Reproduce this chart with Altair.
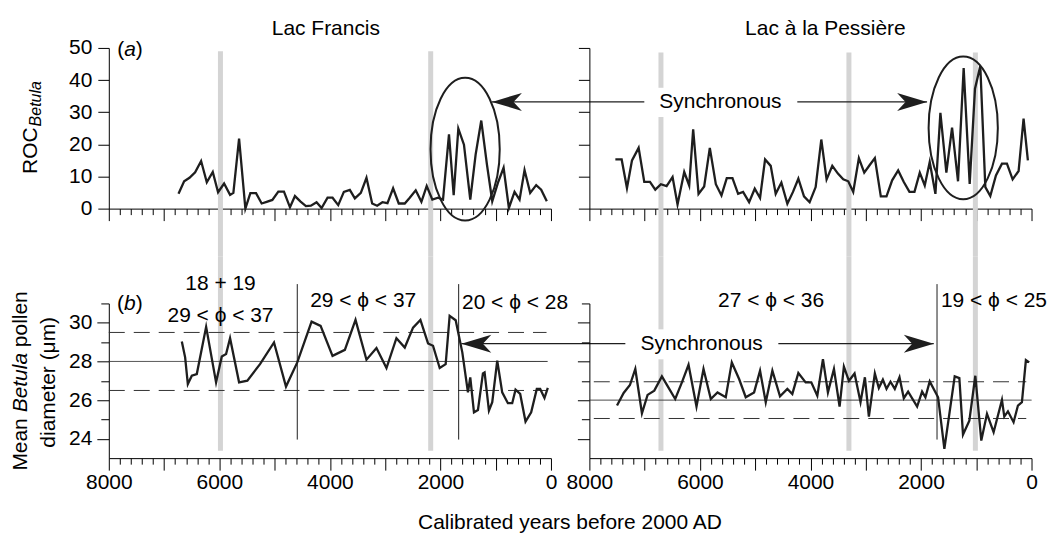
import altair as alt
import pandas as pd

FONT = "Liberation Sans"
FS = 21
W = 443
H_TOP = 161
H_BOT = 155
INK = "#1e1e1e"
BAND = "#d4d4d4"

# ---------------- data ----------------
francis_roc_year = [6739, 6637, 6540, 6438, 6330, 6227, 6119, 6023, 5914, 5806,
                    5746, 5643, 5529, 5439, 5336, 5234, 5144, 5041, 4933, 4831,
                    4722, 4632, 4530, 4433, 4343, 4241, 4150, 4042, 3952, 3849,
                    3747, 3639, 3548, 3440, 3338, 3235, 3145, 3049, 2958, 2856,
                    2754, 2645, 2555, 2447, 2344, 2248, 2146, 2043, 1953, 1845,
                    1760, 1676, 1574, 1460, 1363, 1261, 1158, 1062, 960, 857,
                    761, 659, 568, 478, 376, 267, 177, 75]
francis_roc_val = [4.6, 8.5, 9.6, 11.3, 14.8, 8.2, 11.4, 5.1, 7.8, 4.3,
                   4.9, 21.8, 0.0, 4.8, 4.8, 1.6, 2.1, 2.7, 5.3, 5.3,
                   0.4, 3.9, 2.2, 0.8, 0.9, 2.0, 0.2, 3.4, 3.4, 1.1,
                   5.2, 5.8, 3.2, 4.9, 9.6, 1.6, 0.9, 2.0, 1.7, 6.3,
                   1.6, 1.6, 3.4, 5.7, 2.1, 7.0, 2.8, 3.4, 2.8, 23.1,
                   4.2, 24.9, 19.9, 2.8, 16.8, 27.4, 13.7, 2.3, 8.0, 12.7,
                   0.2, 5.2, 2.8, 12.0, 4.9, 7.3, 5.9, 2.3]

pessiere_roc_year = [7530, 7416, 7320, 7229, 7109, 7007, 6904, 6808, 6706, 6603,
                     6495, 6405, 6284, 6194, 6122, 6025, 5923, 5821, 5712, 5610,
                     5514, 5411, 5309, 5219, 5110, 5008, 4912, 4821, 4719, 4629,
                     4526, 4418, 4316, 4219, 4117, 4015, 3906, 3804, 3708, 3605,
                     3503, 3407, 3316, 3226, 3124, 3027, 2931, 2835, 2727, 2624,
                     2522, 2413, 2311, 2209, 2118, 2022, 1932, 1842, 1739, 1649,
                     1541, 1438, 1330, 1228, 1119, 1023, 927, 836, 746, 644,
                     535, 445, 342, 234, 144, 66]
pessiere_roc_val = [15.3, 15.3, 6.4, 15.0, 18.9, 8.3, 8.3, 5.9, 7.6, 7.0,
                    9.8, 1.3, 11.4, 7.2, 24.7, 4.6, 6.9, 18.9, 7.6, 4.1,
                    9.5, 9.5, 4.6, 5.2, 2.0, 6.2, 3.3, 15.3, 13.3, 4.6,
                    8.1, 1.5, 5.2, 9.3, 3.8, 2.0, 6.7, 21.5, 9.1, 13.3,
                    10.9, 9.1, 8.5, 5.2, 15.7, 11.2, 13.5, 15.7, 3.8, 3.8,
                    8.8, 11.9, 8.3, 5.2, 5.2, 11.2, 7.2, 14.5, 4.6, 29.8,
                    11.2, 25.2, 8.5, 43.7, 7.7, 37.3, 44.4, 6.7, 3.9, 10.3,
                    14.0, 14.0, 9.1, 11.7, 28.0, 15.0]

francis_dia_year = [6679, 6619, 6570, 6498, 6408, 6239, 6059, 5956, 5878, 5806,
                    5643, 5493, 5264, 5011, 4794, 4590, 4331, 4168, 3952, 3729,
                    3536, 3338, 3157, 2976, 2796, 2645, 2495, 2362, 2224, 2134,
                    2013, 1905, 1833, 1724, 1604, 1502, 1460, 1393, 1321, 1231,
                    1201, 1122, 1062, 972, 882, 779, 701, 641, 557, 460,
                    358, 256, 195, 117, 57]
francis_dia_val = [29.03, 28.21, 26.83, 27.26, 27.35, 29.79, 26.92, 28.26, 28.38, 29.20,
                   26.92, 27.01, 27.86, 28.98, 26.70, 27.95, 30.06, 29.84, 28.29, 28.60,
                   30.15, 28.09, 28.69, 27.66, 29.20, 28.72, 29.75, 30.15, 28.93, 28.81,
                   27.66, 27.86, 30.36, 30.13, 28.47, 26.40, 27.18, 25.37, 25.49, 27.38,
                   27.43, 25.46, 25.89, 28.04, 26.40, 25.84, 25.84, 26.54, 26.32, 24.89,
                   25.37, 26.58, 26.58, 26.11, 26.63]

pessiere_dia_year = [7500, 7380, 7266, 7169, 7049, 6947, 6826, 6688, 6555, 6447,
                     6326, 6206, 6062, 5935, 5803, 5682, 5532, 5423, 5291, 5171,
                     5020, 4912, 4809, 4689, 4551, 4418, 4328, 4219, 4087, 3985,
                     3876, 3774, 3684, 3575, 3473, 3395, 3304, 3202, 3094, 3015,
                     2943, 2835, 2763, 2690, 2624, 2552, 2474, 2389, 2311, 2233,
                     2070, 1980, 1920, 1842, 1691, 1577, 1390, 1306, 1240, 1125,
                     1017, 909, 806, 686, 535, 493, 427, 325, 246, 174,
                     102, 42]
pessiere_dia_val = [25.72, 26.37, 26.78, 27.61, 25.32, 26.27, 26.49, 27.23, 26.58, 26.06,
                    26.92, 27.83, 25.67, 27.61, 26.06, 26.40, 26.15, 27.95, 27.09, 26.15,
                    26.40, 27.52, 25.89, 27.52, 26.20, 26.58, 26.32, 27.40, 26.92, 26.92,
                    26.23, 28.12, 26.40, 27.61, 25.67, 27.73, 27.00, 27.38, 25.89, 27.18,
                    25.15, 27.38, 26.63, 27.06, 26.58, 26.95, 26.58, 27.18, 26.10, 26.44,
                    25.67, 26.44, 26.15, 26.97, 26.15, 23.48, 27.23, 27.14, 24.22, 24.94,
                    27.26, 23.91, 25.29, 24.34, 26.01, 25.15, 25.42, 24.86, 25.72, 25.89,
                    28.07, 27.95]

# grey synchronous bands (years) and zone boundaries
francis_bands = [5980, 2176]
pessiere_bands = [6705, 3304, 1016]
francis_zones = [4590, 1670]
pessiere_zones = [1710]

# mean +/- limits of the diameter panels
francis_mean = 28.0
francis_limits = [29.5, 26.5]
pessiere_mean = 26.0
pessiere_limits = [26.95, 25.05]

# zone labels: (year, value, text)
francis_zone_labels = [(5979, 31.98, "18 + 19"), (5979, 30.35, "29 < ϕ < 37"),
                       (3398, 31.12, "29 < ϕ < 37"), (650, 31.03, "20 < ϕ < 28")]
pessiere_zone_labels = [(4713, 31.12, "27 < ϕ < 36"), (680, 31.12, "19 < ϕ < 25")]

# ---------------- scales and axes ----------------
xs = alt.Scale(domain=[8000, 0], nice=False, zero=False)
yt = alt.Scale(domain=[0, 50], nice=False, zero=False)
yb = alt.Scale(domain=[23, 31], nice=False, zero=False)

MAJOR_X = list(range(0, 8001, 1000))
MINOR_X = [v for v in range(0, 8001, 200) if v % 1000]


def x_major(labels):
    kw = dict(values=MAJOR_X, orient="bottom", tickSize=12, grid=False, title=None,
              domain=True, labelFlush=False, labelOverlap=False, format="d",
              labelPadding=1)
    if labels:
        kw["labelExpr"] = "datum.value % 2000 === 0 ? datum.label : ''"
    else:
        kw["labels"] = False
    return alt.Axis(**kw)


x_minor = alt.Axis(values=MINOR_X, orient="bottom", tickSize=6, labels=False,
                   domain=False, grid=False, title=None)


def y_top_axis(labels):
    return alt.Axis(values=[0, 10, 20, 30, 40, 50], orient="left", tickSize=11,
                    labelPadding=6, labels=labels, grid=False, title=None,
                    format="d", labelFlush=False)


def y_bot_axis(labels):
    return alt.Axis(values=[24, 26, 28, 30], orient="left", tickSize=12,
                    labelPadding=5, labels=labels, grid=False, title=None,
                    format="d", labelFlush=False)


y_bot_minor = alt.Axis(values=[25, 27, 29, 31], orient="left", tickSize=8,
                       labels=False, domain=False, grid=False, title=None)

ELLIPSE = "M-0.485,0A0.485,1,0,1,1,0.485,0A0.485,1,0,1,1,-0.485,0Z"
HEAD_R = "M0,0L-1,-0.3L-0.72,0L-1,0.3Z"
HEAD_L = "M0,0L1,-0.3L0.72,0L1,0.3Z"


# ---------------- layer helpers ----------------
def bands(years, y1, y2, ys, xaxis):
    df = pd.DataFrame({"year": years, "y1": [y1] * len(years), "y2": [y2] * len(years)})
    return alt.Chart(df).mark_rule(color=BAND, strokeWidth=5, clip=False).encode(
        x=alt.X("year:Q", scale=xs, axis=xaxis),
        y=alt.Y("y1:Q", scale=ys, axis=None), y2="y2:Q")


def series(years, vals, ys, xaxis, yaxis):
    df = pd.DataFrame({"year": years, "val": vals})
    return alt.Chart(df).mark_line(color=INK, strokeWidth=2.3, strokeJoin="miter",
                                   strokeMiterLimit=6, clip=False).encode(
        x=alt.X("year:Q", scale=xs, axis=xaxis),
        y=alt.Y("val:Q", scale=ys, axis=yaxis))


def hlines(mean, limits, x_end_solid, x_start_dash, x_end_dash):
    df = pd.DataFrame({
        "val": [mean] + limits,
        "x1": [8000, x_start_dash, x_start_dash],
        "x2": [x_end_solid, x_end_dash, x_end_dash],
        "kind": ["solid", "dashed", "dashed"]})
    return alt.Chart(df).mark_rule(color="#333333", strokeWidth=1, clip=False).encode(
        y=alt.Y("val:Q", scale=yb, axis=y_bot_minor),
        x=alt.X("x1:Q", scale=xs, axis=None), x2="x2:Q",
        strokeDash=alt.StrokeDash("kind:N", scale=alt.Scale(domain=["solid", "dashed"],
                                                             range=[[1, 0], [16, 9]]),
                                  legend=None))


def zones(years):
    df = pd.DataFrame({"year": years, "y1": [23.96] * len(years), "y2": [32.0] * len(years)})
    return alt.Chart(df).mark_rule(color=INK, strokeWidth=1, clip=False).encode(
        x=alt.X("year:Q", scale=xs, axis=None),
        y=alt.Y("y1:Q", scale=yb, axis=None), y2="y2:Q")


def whitebox(x1, x2, v1, v2, ys):
    df = pd.DataFrame({"x1": [x1], "x2": [x2], "v1": [v1], "v2": [v2]})
    return alt.Chart(df).mark_rect(color="white", clip=False).encode(
        x=alt.X("x1:Q", scale=xs, axis=None), x2="x2:Q",
        y=alt.Y("v1:Q", scale=ys, axis=None), y2="v2:Q")


def ellipse(year, val, h):
    df = pd.DataFrame({"year": [year], "val": [val]})
    return alt.Chart(df).mark_point(shape=ELLIPSE, filled=False, size=h * h,
                                    color=INK, strokeWidth=2, opacity=1, clip=False).encode(
        x=alt.X("year:Q", scale=xs, axis=None),
        y=alt.Y("val:Q", scale=yt, axis=None))


def arrow(x_from, x_tip, val, ys, pointing):
    df = pd.DataFrame({"x1": [x_from], "x2": [x_tip], "val": [val]})
    line = alt.Chart(df).mark_rule(color=INK, strokeWidth=1.3, clip=False).encode(
        x=alt.X("x1:Q", scale=xs, axis=None), x2="x2:Q",
        y=alt.Y("val:Q", scale=ys, axis=None))
    head = alt.Chart(df).mark_point(shape=HEAD_R if pointing == "right" else HEAD_L,
                                    filled=True, size=3600, color=INK, opacity=1,
                                    strokeWidth=0, clip=False).encode(
        x=alt.X("x2:Q", scale=xs, axis=None),
        y=alt.Y("val:Q", scale=ys, axis=None))
    return [line, head]


def data_text(rows, ys, size=FS):
    df = pd.DataFrame({"year": [r[0] for r in rows], "val": [r[1] for r in rows],
                       "txt": [r[2] for r in rows]})
    return alt.Chart(df).mark_text(font=FONT, fontSize=size, color="black",
                                   baseline="middle", align="center", clip=False).encode(
        x=alt.X("year:Q", scale=xs, axis=None),
        y=alt.Y("val:Q", scale=ys, axis=None), text="txt:N")


def px_text(txt, x, y, align="left", angle=0, italic=False, size=FS, baseline="middle"):
    df = pd.DataFrame({"txt": [txt]})
    kw = dict(font=FONT, fontSize=size, color="black", align=align, baseline=baseline)
    if angle:
        kw["angle"] = angle
    if italic:
        kw["fontStyle"] = "italic"
    return alt.Chart(df).mark_text(**kw).encode(text="txt:N", x=alt.value(x), y=alt.value(y))


# ---------------- panels ----------------
tl_layers = [
    bands(francis_bands, 49, -14.8, yt, x_minor),
    series(francis_roc_year, francis_roc_val, yt, x_major(False), y_top_axis(True)),
    ellipse(1553, 18.5, 143),
    *arrow(-1689, 1067, 33.2, yt, "left"),
    px_text("(", 8.5, 2), px_text("a", 15.5, 2, italic=True), px_text(")", 27, 2),
    px_text("ROC", -77.5, 126.3, angle=270),
    px_text("Betula", -72.5, 78.6, angle=270, italic=True, size=16),
    px_text("Lac Francis", W / 2 - 4, -13.4, align="center", baseline="alphabetic"),
]
TL = alt.layer(*tl_layers).resolve_axis(x="independent", y="independent").properties(
    width=W, height=H_TOP)

tr_layers = [
    bands(pessiere_bands, 48.6, -14.8, yt, x_minor),
    whitebox(6800, 6600, 28.5, 37.6, yt),
    series(pessiere_roc_year, pessiere_roc_val, yt, x_major(False), y_top_axis(False)),
    alt.Chart(pd.DataFrame({"year": [1236], "val": [25.1]})).mark_point(
        shape=ELLIPSE, filled=False, size=143 * 143, color=INK, strokeWidth=2,
        opacity=1, clip=False).encode(x=alt.X("year:Q", scale=xs, axis=None),
                                      y=alt.Y("val:Q", scale=yt, axis=None)),
    *arrow(4238, 1890, 33.2, yt, "right"),
    data_text([(5629, 33.2, "Synchronous")], yt),
    px_text("Lac à la Pessière", W / 2 + 15, -13.4, align="center", baseline="alphabetic"),
]
TR = alt.layer(*tr_layers).resolve_axis(x="independent", y="independent").properties(
    width=W, height=H_TOP)

bl_layers = [
    bands(francis_bands, 23.38, 33.44, yb, x_minor),
    hlines(francis_mean, francis_limits, 60, 8000, 80),
    zones(francis_zones),
    series(francis_dia_year, francis_dia_val, yb, x_major(True), y_bot_axis(True)),
    *arrow(-1346, 1621, 28.92, yb, "left"),
    data_text(francis_zone_labels, yb),
    px_text("(", 8.2, 1), px_text("b", 15.2, 1, italic=True), px_text(")", 27, 1),
    px_text("Mean", -87.8, 167.5, angle=270),
    px_text("Betula", -87.8, 109.1, angle=270, italic=True),
    px_text("pollen", -87.8, 43.8, angle=270),
    px_text("diameter (μm)", -60.3, 79, align="center", angle=270),
    px_text("Calibrated years before 2000 AD", 462, 225.5, align="center",
            baseline="alphabetic"),
]
BL = alt.layer(*bl_layers).resolve_axis(x="independent", y="independent").properties(
    width=W, height=H_BOT)

br_layers = [
    bands(pessiere_bands, 23.38, 33.44, yb, x_minor),
    whitebox(6800, 6600, 28.11, 29.66, yb),
    hlines(pessiere_mean, pessiere_limits, 0, 7920, 95),
    zones(pessiere_zones),
    series(pessiere_dia_year, pessiere_dia_val, yb, x_major(True), y_bot_axis(False)),
    *arrow(4581, 1769, 28.92, yb, "right"),
    data_text([(5968, 28.92, "Synchronous")], yb),
    data_text(pessiere_zone_labels, yb),
]
BR = alt.layer(*br_layers).resolve_axis(x="independent", y="independent").properties(
    width=W, height=H_BOT)

chart = alt.concat(TL, TR, BL, BR, columns=2, spacing={"row": 95, "column": 38.5},
                   bounds="flush").properties(
    padding={"left": 2, "top": 8.5, "right": 0, "bottom": 0}
).configure_view(stroke=None).configure_axis(
    labelFont=FONT, labelFontSize=FS, labelColor="black", tickColor="black",
    domainColor="black", tickWidth=1, domainWidth=1, grid=False
)

chart.save("out.html", embed_options={"renderer": "svg", "actions": False})
